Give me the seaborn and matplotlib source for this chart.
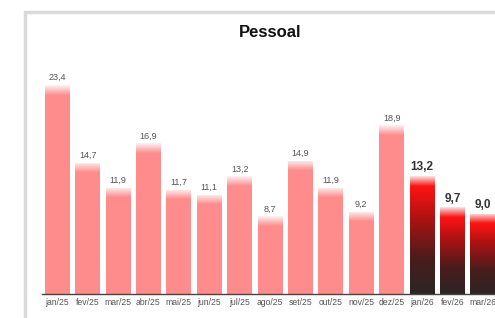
import numpy as np
import pandas as pd
import matplotlib
matplotlib.use("Agg")
import matplotlib.pyplot as plt
from matplotlib.colors import LinearSegmentedColormap
from matplotlib.patches import Rectangle
import seaborn as sns

# Dados
meses = ['jan/25', 'fev/25', 'mar/25', 'abr/25', 'mai/25', 'jun/25', 'jul/25', 'ago/25',
         'set/25', 'out/25', 'nov/25', 'dez/25', 'jan/26', 'fev/26', 'mar/26']
valores = [23.4, 14.7, 11.9, 16.9, 11.7, 11.1, 13.2, 8.7, 14.9, 11.9, 9.2, 18.9, 13.2, 9.7, 9.0]
ano = ['2025'] * 12 + ['2026'] * 3

df = pd.DataFrame({'mes': meses, 'valor': valores, 'ano': ano})

sns.set_style("white")
plt.rcParams['font.family'] = ['Liberation Sans', 'DejaVu Sans']

fig = plt.figure(figsize=(4.95, 3.18), dpi=100)
fig.patch.set_facecolor('white')

# moldura cinza (cartão)
fig.patches.append(Rectangle((25 / 495, -0.1), 1.2, (318 - 12) / 318 + 0.1,
                             transform=fig.transFigure, fill=False,
                             edgecolor='#dadada', linewidth=2.5, zorder=0))

ax = fig.add_axes([42 / 495, 24 / 318, 456 / 495, 254 / 318])
sns.barplot(data=df, x='mes', y='valor', color='#ff8c8c', width=0.82, ax=ax,
            saturation=1)

# gradientes
grad = np.linspace(0, 1, 256).reshape(-1, 1)
for patch, a in zip(ax.patches, ano):
    x, y = patch.get_x(), patch.get_y()
    w, h = patch.get_width(), patch.get_height()
    # o esmaecimento no topo tem altura fixa
    frac = 1 - 1.1 / h
    if a == '2025':
        cmap = LinearSegmentedColormap.from_list('c', [(0, '#ff8c8c'), (frac, '#ff8c8c'),
                                                       (1, '#fff0f0')])
    else:
        cmap = LinearSegmentedColormap.from_list('c', [(0, '#2a2626'), (0.3, '#4a1c1c'),
                                                       (0.65, '#b01212'), (frac, '#ff1414'),
                                                       (1, '#ffe0e0')])
    patch.set_facecolor('none')
    im = ax.imshow(grad, extent=[x, x + w, y, y + h], origin='lower', cmap=cmap,
                   aspect='auto', zorder=2)
    im.set_clip_path(patch)

ax.set_xlim(-0.5, 14.5)
ax.set_ylim(0, 28.45)

# rótulos de valores
for i, (v, a) in enumerate(zip(valores, ano)):
    txt = f"{v:.1f}".replace('.', ',')
    if a == '2026':
        ax.annotate(txt, (i, v), xytext=(0, 2), textcoords='offset points', ha='center',
                    va='bottom', fontsize=8.5, fontweight='bold', color='#333333')
    else:
        ax.annotate(txt, (i, v), xytext=(0, 2), textcoords='offset points', ha='center',
                    va='bottom', fontsize=6.5, color='#555555')

ax.set_title('Pessoal', fontsize=12, fontweight='bold', color='#111111', pad=2)
ax.set_xlabel('')
ax.set_ylabel('')
ax.set_yticks([])
ax.tick_params(axis='x', length=0, labelsize=6.2, labelcolor='#555555', pad=3)
for s in ['top', 'right', 'left']:
    ax.spines[s].set_visible(False)
ax.spines['bottom'].set_color('#444444')
ax.spines['bottom'].set_linewidth(1)

fig.savefig('out.png', dpi=100)
